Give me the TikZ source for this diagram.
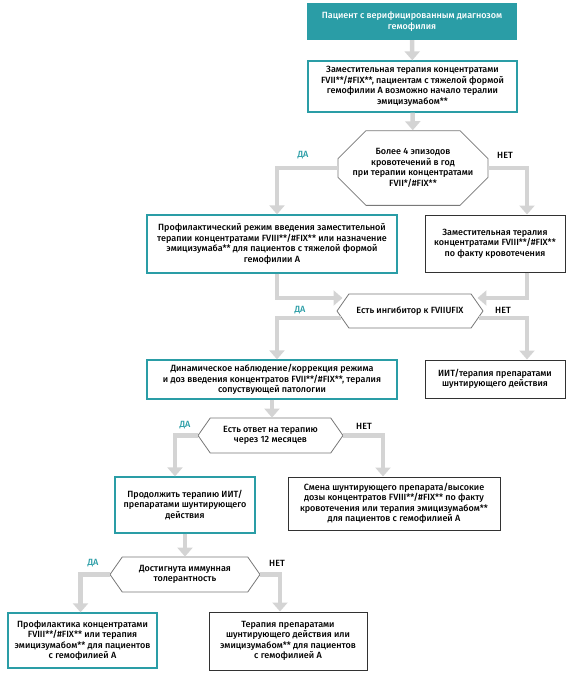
\documentclass[tikz,border=0pt]{standalone}
\usepackage{fontspec}
\setmainfont{Fira Sans}[BoldFont={Fira Sans Medium}]
\usetikzlibrary{arrows.meta,shapes.misc,shapes.symbols}

\definecolor{brandteal}{RGB}{42,157,166}
\definecolor{flowgray}{RGB}{212,212,212}
\definecolor{hexgray}{RGB}{120,120,120}
\definecolor{darkline}{RGB}{50,50,50}

\begin{document}
\begin{tikzpicture}[x=1pt,y=-1pt,
    font=\fontsize{9}{10.5}\selectfont\bfseries,
    startbox/.style={rectangle,fill=brandteal,text=white,align=center,inner sep=0pt},
    tealbox/.style={rectangle,draw=brandteal,fill=white,line width=1.3pt,align=center,inner sep=0pt},
    darkbox/.style={rectangle,draw=darkline,fill=white,line width=1pt,align=center,inner sep=0pt},
    octbox/.style={chamfered rectangle,chamfered rectangle xsep=10pt,chamfered rectangle ysep=18pt,
      draw=hexgray,fill=white,line width=0.8pt,align=center,inner sep=0pt},
    hexbox/.style={signal,signal to=west and east,signal pointer angle=110,
      draw=hexgray,fill=white,line width=0.8pt,align=center,inner sep=0pt},
    flow/.style={draw=flowgray,line width=4.5pt,-{Triangle[width=15pt,length=9pt]}},
    yes/.style={text=brandteal},
    no/.style={text=black}]

\useasboundingbox (0,0) rectangle (572,673);

% Level 0
\node[startbox,minimum width=210pt,minimum height=37pt] (start) at (412,21.5)
  {Пациент с верифицированным диагнозом\\гемофилия};
\node[tealbox,minimum width=209pt,minimum height=51pt] (repl) at (412.5,86.5)
  {Заместительная терапия концентратами\\FVII**/\#FIX**, пациентам с тяжелой формой\\гемофилии А возможно начало тералии\\эмицизумабом**};
\node[octbox,minimum width=150pt,minimum height=62pt] (episodes) at (413,168)
  {Более 4 эпизодов\\кровотечений в год\\при терапии концентратами\\FVII*/\#FIX**};

% Level 1
\node[tealbox,minimum width=250pt,minimum height=58pt] (prophyl) at (272,244)
  {Профилактический режим введения заместительной\\терапии концентратами FVIII**/\#FIX** или назначение\\эмицизумаба** для пациентов с тяжелой формой\\гемофилии А};
\node[darkbox,minimum width=140pt,minimum height=57pt] (ondemand) at (495,243.5)
  {Заместительная тералия\\концентратами FVIII**/\#FIX**\\по факту кровотечения};
\node[hexbox,minimum width=146pt,minimum height=34pt] (inhib) at (410,311)
  {Есть ингибитор к FVIIUFIX};

% Level 2
\node[tealbox,minimum width=250pt,minimum height=39pt] (observe) at (272,379.5)
  {Динамическое наблюдение/коррекция режима\\и доз введения концентратов FVII**/\#FIX**, тералия\\сопуствующей патологии};
\node[darkbox,minimum width=140pt,minimum height=38pt] (iit) at (495,379)
  {ИИТ/терапия препаратами\\шунтирующего действия};
\node[hexbox,minimum width=145pt,minimum height=35pt] (response) at (270.5,435.5)
  {Есть ответ на терапию\\через 12 месяцев};

% Level 3
\node[tealbox,minimum width=140pt,minimum height=56pt] (contin) at (185,505)
  {Продолжить терапию ИИТ/\\препаратами шунтирующего\\действия};
\node[darkbox,minimum width=212pt,minimum height=53pt] (change) at (394,503.5)
  {Смена шунтирующего препарата/высокие\\дозы концентратов FVIII**/\#FIX** по факту\\кровотечения или терапия эмицизумабом**\\для пациентов с гемофилией А};
\node[hexbox,minimum width=150pt,minimum height=35pt] (toler) at (185,574.5)
  {Достигнута иммунная\\толерантность};

% Level 4
\node[tealbox,minimum width=149pt,minimum height=55pt] (prophfin) at (82.5,640.5)
  {Профилактика концентратами\\FVIII**/\#FIX** или терапия\\эмицизумабом** для пациентов\\с гемофилией А};
\node[darkbox,minimum width=158pt,minimum height=58pt] (bypass) at (288,641)
  {Терапия препаратами\\шунтирующего действия или\\эмицизумабом** для пациентов\\с гемофилией А};

% Edges
\draw[flow] (start) -- (repl);
\draw[flow] (repl) -- (episodes);
\draw[flow] (episodes.west) -| ([xshift=5pt]prophyl.north);
\draw[flow] (episodes.east) -| ([xshift=32pt]ondemand.north);
\draw[flow] ([xshift=5pt]prophyl.south) |- ([shift={(6pt,13pt)}]inhib.west);
\draw[flow] ([xshift=32pt]ondemand.south) |- ([shift={(-6pt,13pt)}]inhib.east);
\draw[flow] ([shift={(4pt,-7pt)}]inhib.west) -| ([xshift=5pt]observe.north);
\draw[flow] ([shift={(-4pt,-7pt)}]inhib.east) -| ([xshift=32pt]iit.north);
\draw[flow] (observe.south) -- (observe.south |- response.north);
\draw[flow] (response.west) -| ([xshift=-10pt]contin.north);
\draw[flow] (response.east) -| ([xshift=-11pt]change.north);
\draw[flow] (contin.south) -- (toler.north);
\draw[flow] (toler.west) -| ([xshift=-2pt]prophfin.north);
\draw[flow] (toler.east) -| ([xshift=-8pt]bypass.north);

% Labels
\node[yes] (yesA) at (303,155) {ДА};
\node[no] (noA) at (505,155) {НЕТ};
\node[yes] (yesB) at (300,310) {ДА};
\node[no] (noB) at (503,310) {НЕТ};
\node[yes] (yesC) at (185,425) {ДА};
\node[no] (noC) at (364,426) {НЕТ};
\node[yes] (yesD) at (93,563) {ДА};
\node[no] (noD) at (277,563) {НЕТ};
\end{tikzpicture}
\end{document}
